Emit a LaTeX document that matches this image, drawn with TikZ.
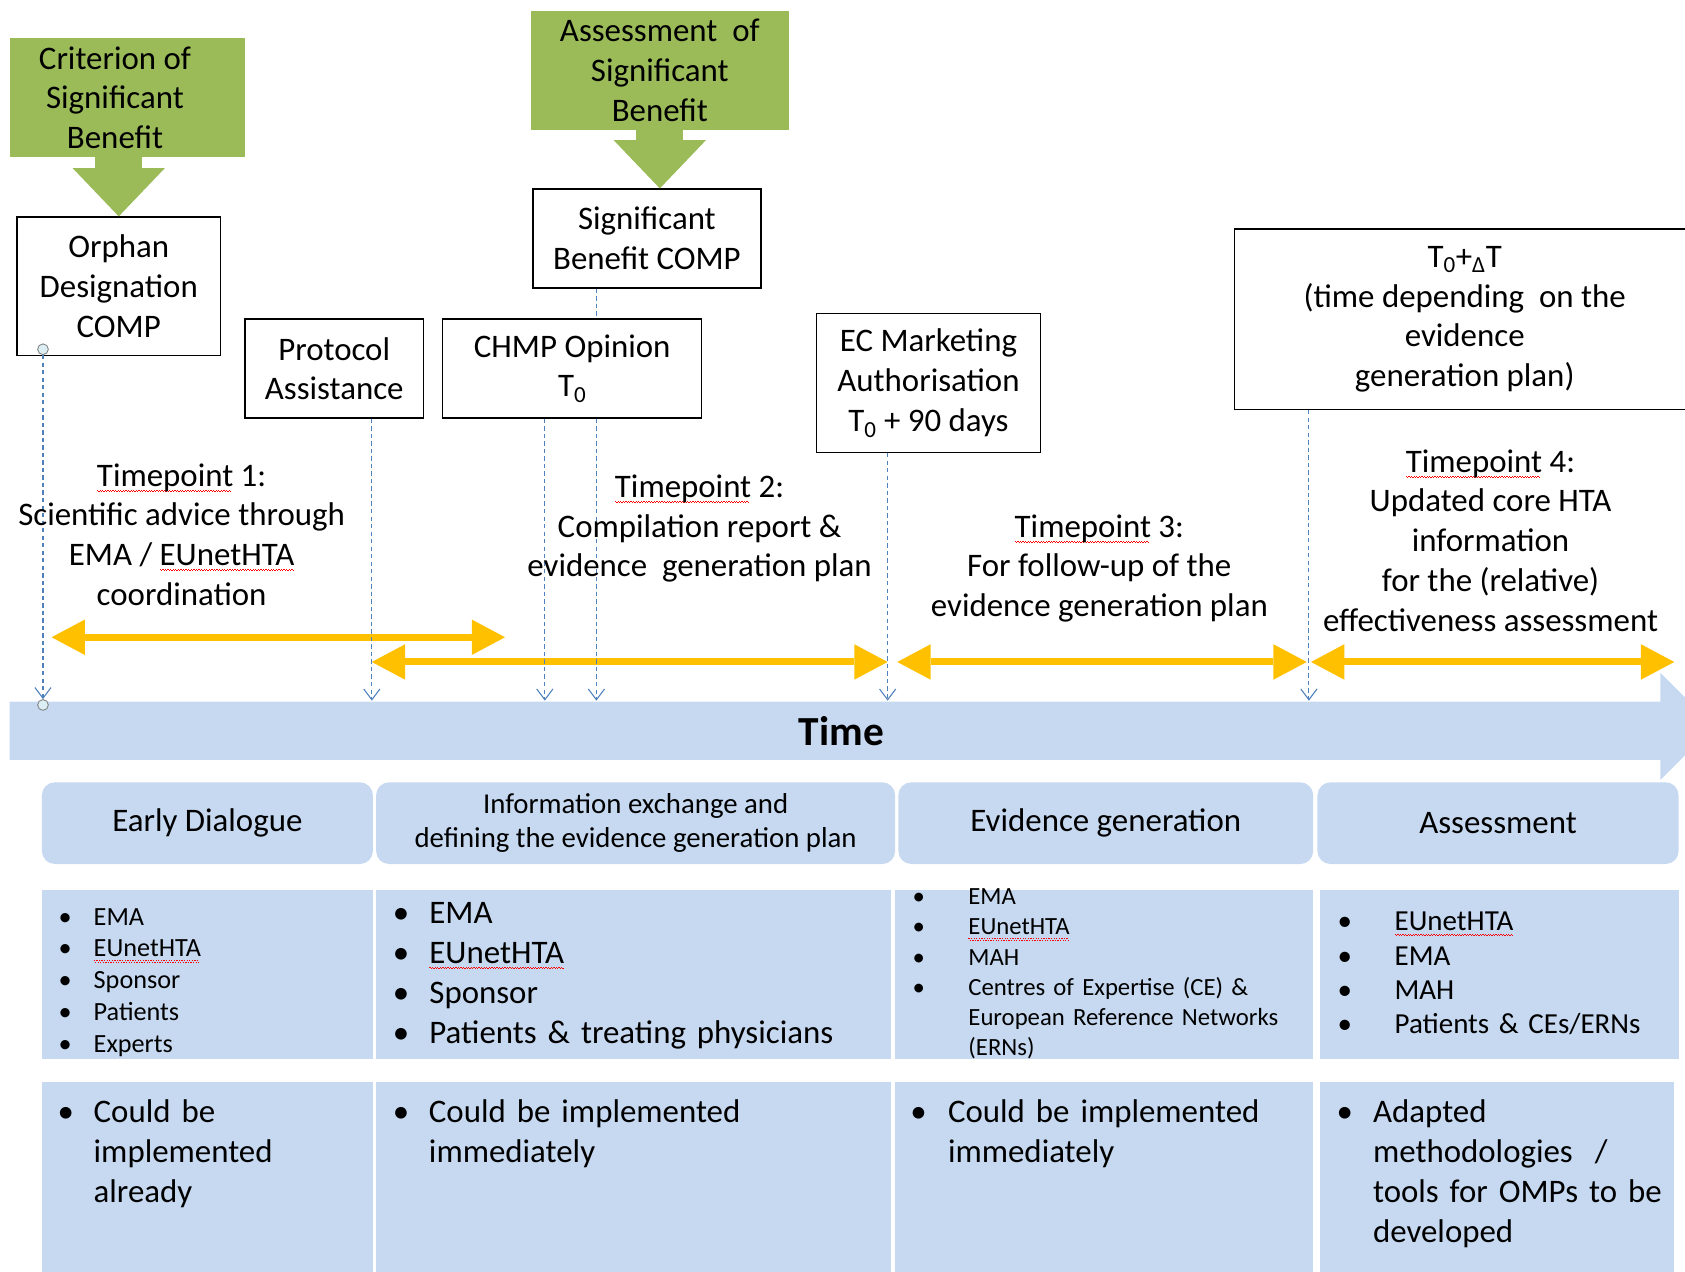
\documentclass[tikz,border=0pt]{standalone}
\usepackage{fontspec}
\setmainfont{Carlito}
\usetikzlibrary{arrows.meta}
\definecolor{sbgreen}{RGB}{155,187,89}
\definecolor{tlblue}{RGB}{198,217,241}
\definecolor{spanyellow}{RGB}{255,192,0}
\definecolor{linkblue}{RGB}{79,129,189}
\definecolor{ringfill}{RGB}{218,238,243}
\newlength{\bulletgap}
\newcommand{\sq}[1]{\setbox0\hbox{#1}\rlap{\color{red}\hbox to \wd0{\leaders\hbox{\rule[-4pt]{1.2pt}{0.8pt}\rule[-5.2pt]{1.2pt}{0.8pt}}\hfill}}\box0\relax}
\newcommand{\li}[1]{\makebox[\bulletgap][l]{\textbullet}#1}
\newcommand{\nfont}{\fontsize{30.6}{37}\selectfont}
\tikzstyle{line} = [draw=linkblue, dash pattern=on 4pt off 3pt, line width=1pt, -{Straight Barb[length=10pt,width=15pt]}]
\tikzstyle{block} = [draw, rectangle, line width=1.3pt, align=center, font=\nfont, inner sep=0pt]
\tikzstyle{greenbox} = [fill=sbgreen, rectangle, inner sep=0pt]
\tikzstyle{greenarrow} = [draw=sbgreen, line width=44pt, -{Triangle[length=45pt,width=86pt,line width=0pt]}]
\tikzstyle{yspan} = [draw=spanyellow, line width=6.5pt, {Triangle[length=31pt,width=33pt,line width=0pt]}-{Triangle[length=31pt,width=33pt,line width=0pt]}]
\tikzstyle{phase} = [fill=tlblue, rounded corners=12pt, minimum height=76pt, inner sep=0pt, align=center, font=\nfont]
\tikzstyle{panel} = [fill=tlblue, rectangle, inner sep=0pt]
\tikzstyle{tptext} = [align=center, font=\nfont, inner sep=0pt]
\tikzstyle{items} = [align=left, anchor=base west, inner sep=0pt, text width=420pt]
\tikzstyle{ring} = [draw=gray, fill=ringfill, circle, minimum size=10pt, inner sep=0pt, line width=0.8pt]

\begin{document}
\begin{tikzpicture}[x=1pt, y=-1pt]
        \useasboundingbox (0,0) rectangle (1568,1183);
        \clip (0,0) rectangle (1568,1183);
        \fill[tlblue] (9,653) -- (1545,653) -- (1545,626) -- (1595,676) -- (1545,726) -- (1545,707) -- (9,707) -- cycle;
        \node[font=\fontsize{38.5}{46}\selectfont\bfseries] (time) at (783,680) {Time};
        \node[phase, minimum width=308pt] (early) at (193,766) {Early Dialogue};
        \node[phase, minimum width=483pt, font=\fontsize{26.8}{32}\selectfont] (exchange) at (591.5,766) {Information exchange and\\defining the evidence generation plan};
        \node[phase, minimum width=386pt] (evidence) at (1029,766) {Evidence generation};
        \node[phase, minimum width=336pt] (assessment) at (1394,766) {Assessment};
        \node[panel, minimum width=308pt, minimum height=157pt] (who1) at (193,906.5) {};
        \node[panel, minimum width=479pt, minimum height=157pt] (who2) at (589.5,906.5) {};
        \node[panel, minimum width=389pt, minimum height=157pt] (who3) at (1027.5,906.5) {};
        \node[panel, minimum width=334pt, minimum height=157pt] (who4) at (1395,906.5) {};
        \node[panel, minimum width=308pt, minimum height=193pt] (how1) at (193,1103.5) {};
        \node[panel, minimum width=479pt, minimum height=193pt] (how2) at (589.5,1103.5) {};
        \node[panel, minimum width=389pt, minimum height=193pt] (how3) at (1027.5,1103.5) {};
        \node[panel, minimum width=330pt, minimum height=193pt] (how4) at (1393,1103.5) {};
        \node[items, font=\fontsize{24.4}{29.5}\selectfont] (wholist1) at (54.4,861) {\bulletgap=32.6pt \li{EMA}\\\li{\sq{EUnetHTA}}\\\li{Sponsor}\\\li{Patients}\\\li{Experts}};
        \node[items, font=\fontsize{30.6}{37.3}\selectfont] (wholist2) at (365.4,859) {\bulletgap=34pt \li{EMA}\\\li{\sq{EUnetHTA}}\\\li{Sponsor}\\\li{Patients \& treating physicians}};
        \node[items, font=\fontsize{23}{28}\selectfont] (wholist3) at (849,842) {\bulletgap=52pt \li{EMA}\\\li{\sq{EUnetHTA}}\\\li{MAH}\\\li{Centres of Expertise (CE) \&}\\\hspace*{\bulletgap}European\ Reference\ Networks\\\hspace*{\bulletgap}(ERNs)};
        \node[items, font=\fontsize{27}{32}\selectfont] (wholist4) at (1244.6,866) {\bulletgap=53pt \li{\sq{EUnetHTA}}\\\li{EMA}\\\li{MAH}\\\li{Patients \& CEs/ERNs}};
        \node[items, font=\nfont] (howlist1) at (53.4,1045) {\bulletgap=33.6pt \li{Could be}\\\hspace*{\bulletgap}implemented\\\hspace*{\bulletgap}already};
        \node[items, font=\nfont] (howlist2) at (365.4,1045) {\bulletgap=33.6pt \li{Could be implemented}\\\hspace*{\bulletgap}immediately};
        \node[items, font=\nfont] (howlist3) at (847,1045) {\bulletgap=35pt \li{Could be implemented}\\\hspace*{\bulletgap}immediately};
        \node[items, font=\nfont] (howlist4) at (1243.7,1045) {\bulletgap=33.8pt \li{Adapted}\\\hspace*{\bulletgap}methodologies\ \ /\\\hspace*{\bulletgap}tools for OMPs to be\\\hspace*{\bulletgap}developed};
        \node[greenbox, minimum width=219pt, minimum height=111pt] (crit) at (118.5,90.5) {};
        \node[tptext] (critlbl) at (107,91) {Criterion of\\Significant\\Benefit};
        \node[block, minimum width=189pt, minimum height=129pt] (orphan) at (110.5,266.5) {Orphan\\Designation\\COMP};
        \node[greenbox, tptext, minimum width=240pt, minimum height=111pt] (assess) at (614,65.5) {Assessment\ \ of\\Significant\\Benefit};
        \node[block, minimum width=212pt, minimum height=92pt] (sbcomp) at (602,222) {Significant\\Benefit COMP};
        \node[block, minimum width=166pt, minimum height=92pt] (protocol) at (311,343) {Protocol\\Assistance};
        \node[block, minimum width=241pt, minimum height=92pt] (chmp) at (532.5,343) {CHMP Opinion\\T\textsubscript{0}};
        \node[block, minimum width=208pt, minimum height=129pt] (ecma) at (864,356.5) {EC Marketing\\Authorisation\\T\textsubscript{0} + 90 days};
        \node[block, minimum width=428pt, minimum height=168pt] (tdelta) at (1363,297) {T\textsubscript{0}+\textsubscript{Δ}T\\(time depending\ \ on the\\evidence\\generation plan)};
        \draw[greenarrow] (orphan.north |- crit.south) -- (orphan.north);
        \draw[greenarrow] (assess.south) -- (assess.south |- sbcomp.north);
        \coordinate (s1a) at (48,593);
        \coordinate (s1b) at (470,593);
        \coordinate (s2a) at (346,616);
        \coordinate (s2b) at (826,616);
        \coordinate (s3a) at (835,616);
        \coordinate (s3b) at (1216,616);
        \coordinate (s4a) at (1220,616);
        \coordinate (s4b) at (1558,616);
        \draw[yspan] (s1a) -- (s1b);
        \draw[yspan] (s2a) -- (s2b);
        \draw[yspan] (s3a) -- (s3b);
        \draw[yspan] (s4a) -- (s4b);
        \coordinate (t2) at (346,652);
        \coordinate (t3) at (507,652);
        \coordinate (t4) at (555,652);
        \coordinate (t5) at (826,652);
        \coordinate (t6) at (1218,652);
        \node[ring] (c1) at (40,325) {};
        \node[ring] (c2) at (40,656) {};
        \path[line] (c1) -- (c2);
        \path[line] (t2 |- protocol.south) -- (t2);
        \path[line] (t3 |- chmp.south) -- (t3);
        \path[line] (t4 |- chmp.south) -- (t4);
        \path[line, -] (t4 |- sbcomp.south) -- (t4 |- chmp.north);
        \path[line] (t5 |- ecma.south) -- (t5);
        \path[line] (t6 |- tdelta.south) -- (t6);
        \node[tptext] (tp1) at (169,497.5) {\sq{Timepoint} 1:\\Scientific advice through\\EMA / \sq{EUnetHTA}\\coordination};
        \node[tptext] (tp2) at (651,492) {\sq{Timepoint} 2:\\Compilation\ report \&\\evidence\ \ generation plan};
        \node[tptext] (tp3) at (1023,529) {\sq{Timepoint} 3:\\For follow-up of the\\evidence generation plan};
        \node[tptext] (tp4) at (1387,503) {\sq{Timepoint} 4:\\Updated core HTA\\information\\for the (relative)\\effectiveness\ assessment};
    \end{tikzpicture}
\end{document}
